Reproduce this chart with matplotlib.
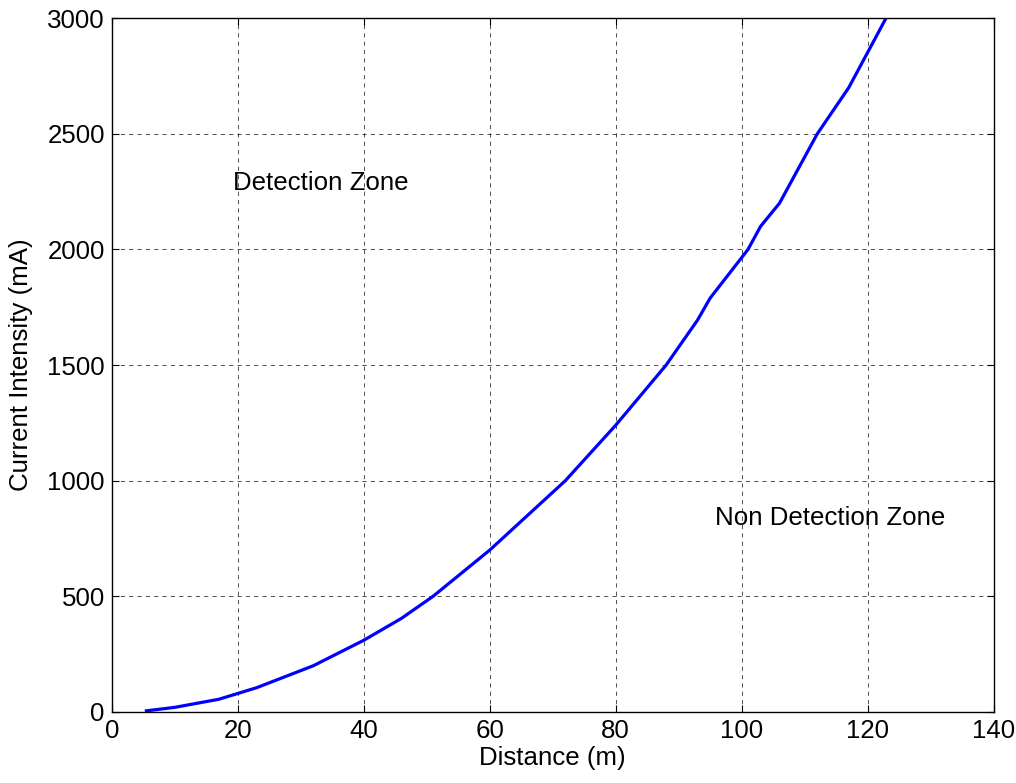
import matplotlib
matplotlib.use("Agg")
import matplotlib.pyplot as plt

distance_m = [5.5, 10, 17, 23, 32, 40, 46, 51, 60, 68, 72, 80, 88, 93, 95, 101, 103, 106, 110, 112, 117, 123.3]
current_mA = [5, 20, 55, 105, 200, 310, 405, 500, 700, 900, 1000, 1240, 1500, 1695, 1790, 2000, 2100, 2200, 2400, 2500, 2700, 3020]

x_ticks = [0, 20, 40, 60, 80, 100, 120, 140]
y_ticks = [0, 500, 1000, 1500, 2000, 2500, 3000]

plt.rcParams['font.family'] = ['Liberation Sans', 'DejaVu Sans']
FS = 18.6

fig = plt.figure(figsize=(10.16, 7.83), dpi=100)
ax = fig.add_axes([0.110, 0.0907, 0.868, 0.886])
ax.plot(distance_m, current_mA, color='#0000ff', linewidth=2.3, clip_on=True)
ax.set_xlim(0, 140)
ax.set_ylim(0, 3000)
ax.set_xticks(x_ticks)
ax.set_yticks(y_ticks)
ax.tick_params(direction='in', top=True, right=True, labelsize=FS, length=5, width=0.8, pad=5)
ax.grid(True, linestyle=(0, (5, 5)), color='black', linewidth=0.6, alpha=0.8)
for s in ax.spines.values():
    s.set_linewidth(1.0)
ax.set_xlabel('Distance (m)', fontsize=FS, labelpad=2)
ax.set_ylabel('Current Intensity (mA)', fontsize=FS, labelpad=10)
ax.text(19.2, 2287, 'Detection Zone', fontsize=FS, va='center', ha='left')
ax.text(95.7, 839, 'Non Detection Zone', fontsize=FS, va='center', ha='left')
fig.savefig('out.png', dpi=100)
